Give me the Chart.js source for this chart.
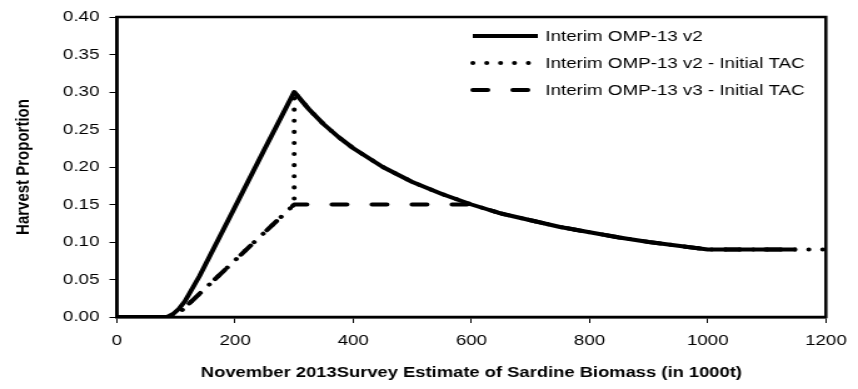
<!DOCTYPE html>
<html>
<head>
<meta charset="utf-8">
<script src="https://cdn.jsdelivr.net/npm/chart.js@4.4.1/dist/chart.umd.min.js"></script>
<style>
  html, body { margin: 0; padding: 0; background: #fff; overflow: hidden; }
  #wrap { width: 686px; height: 389px; transform: scaleX(1.25073); transform-origin: 0 0; }
</style>
</head>
<body>
<div id="wrap"><canvas id="c"></canvas></div>
<script>
// ---- data (biomass in 1000t, harvest proportion) ----
const seriesNames = ["Interim OMP-13 v2", "Interim OMP-13 v2 - Initial TAC", "Interim OMP-13 v3 - Initial TAC"];

const v2Biomass = [0, 85, 95, 105, 115, 140, 200, 250, 300, 325, 350, 375, 400, 450, 500, 550, 600, 650, 700, 750, 800, 850, 900, 950, 1000, 1050, 1100, 1150];
const v2Harvest = [0, 0, 0.004, 0.011, 0.021, 0.055, 0.147, 0.224, 0.300, 0.277, 0.257, 0.240, 0.225, 0.200, 0.180, 0.164, 0.150, 0.138, 0.129, 0.120, 0.113, 0.106, 0.100, 0.095, 0.090, 0.090, 0.090, 0.090];

const v2InitBiomass = [0, 98, 300, 300, 325, 350, 375, 400, 450, 500, 550, 600, 650, 700, 750, 800, 850, 900, 950, 1000, 1100, 1200];
const v2InitHarvest = [0, 0, 0.150, 0.300, 0.277, 0.257, 0.240, 0.225, 0.200, 0.180, 0.164, 0.150, 0.138, 0.129, 0.120, 0.113, 0.106, 0.100, 0.095, 0.090, 0.090, 0.090];

const v3InitBiomass = [0, 98, 300, 600, 650, 700, 750, 800, 850, 900, 950, 1000, 1100, 1150];
const v3InitHarvest = [0, 0, 0.150, 0.150, 0.138, 0.129, 0.120, 0.113, 0.106, 0.100, 0.095, 0.090, 0.090, 0.090];

const xTicks = [0, 200, 400, 600, 800, 1000, 1200];
const yTicks = [0.00, 0.05, 0.10, 0.15, 0.20, 0.25, 0.30, 0.35, 0.40];

const toPts = (xs, ys) => xs.map((x, i) => ({ x: x, y: ys[i] }));

const FONT = "'Liberation Sans', Arial, sans-serif";

const boxPlugin = {
  id: 'plotBox',
  beforeDatasetsDraw(chart) {
    const { ctx, chartArea: a } = chart;
    ctx.save();
    ctx.strokeStyle = '#000';
    ctx.lineWidth = 2.5;
    ctx.strokeRect(a.left, a.top, a.right - a.left, a.bottom - a.top);
    ctx.restore();
  }
};

const legendPlugin = {
  id: 'insideLegend',
  afterDraw(chart) {
    const { ctx } = chart;
    const rows = [36, 63, 90];
    const x1 = 378, x2 = 430, tx = 436;
    ctx.save();
    chart.data.datasets.forEach((ds, i) => {
      const y = rows[i];
      ctx.beginPath();
      ctx.strokeStyle = ds.borderColor;
      ctx.lineWidth = ds.borderWidth;
      ctx.lineCap = ds.borderCapStyle || 'butt';
      ctx.setLineDash(ds.borderDash || []);
      ctx.moveTo(x1, y);
      ctx.lineTo(x2, y);
      ctx.stroke();
      ctx.setLineDash([]);
      ctx.fillStyle = '#000';
      ctx.font = '15px ' + FONT;
      ctx.textAlign = 'left';
      ctx.textBaseline = 'middle';
      ctx.fillText(ds.label, tx, y + 1);
    });
    ctx.restore();
  }
};

new Chart(document.getElementById('c'), {
  type: 'scatter',
  data: {
    datasets: [
      {
        label: seriesNames[0],
        data: toPts(v2Biomass, v2Harvest),
        showLine: true, borderColor: '#000', borderWidth: 4,
        borderCapStyle: 'butt', borderJoinStyle: 'round',
        pointRadius: 0, tension: 0
      },
      {
        label: seriesNames[1],
        data: toPts(v2InitBiomass, v2InitHarvest),
        showLine: true, borderColor: '#000', borderWidth: 4,
        borderDash: [0.1, 11], borderCapStyle: 'round', borderJoinStyle: 'round',
        pointRadius: 0, tension: 0
      },
      {
        label: seriesNames[2],
        data: toPts(v3InitBiomass, v3InitHarvest),
        showLine: true, borderColor: '#000', borderWidth: 4,
        borderDash: [12, 20], borderCapStyle: 'round', borderJoinStyle: 'round',
        pointRadius: 0, tension: 0
      }
    ]
  },
  options: {
    responsive: true,
    maintainAspectRatio: false,
    animation: false,
    events: [],
    layout: { padding: { left: 0, right: 19.2, top: 15, bottom: 0 } },
    plugins: { legend: { display: false }, tooltip: { enabled: false } },
    scales: {
      x: {
        type: 'linear', min: 0, max: 1200,
        afterBuildTicks(scale) { scale.ticks = xTicks.map(v => ({ value: v })); },
        afterFit(scale) { scale.height = 72; },
        grid: { display: true, drawOnChartArea: false, drawTicks: true, tickLength: 6, color: '#000', lineWidth: 1 },
        border: { display: true, color: '#000', width: 2.5 },
        ticks: { color: '#000', font: { family: FONT, size: 15 }, padding: 9, maxRotation: 0, callback: v => String(v) },
        title: { display: true, text: 'November 2013Survey Estimate of Sardine Biomass (in 1000t)', color: '#000',
                 font: { family: FONT, size: 14.7, weight: 'bold' }, padding: { top: 0, bottom: 7 } }
      },
      y: {
        type: 'linear', min: 0, max: 0.40,
        afterBuildTicks(scale) { scale.ticks = yTicks.map(v => ({ value: v })); },
        afterFit(scale) { scale.width = 93.5; },
        grid: { display: true, drawOnChartArea: false, drawTicks: true, tickLength: 6, color: '#000', lineWidth: 1 },
        border: { display: true, color: '#000', width: 2.5 },
        ticks: { color: '#000', font: { family: FONT, size: 15 }, padding: 8, callback: v => Number(v).toFixed(2) },
        title: { display: true, text: 'Harvest Proportion', color: '#000',
                 font: { family: FONT, size: 15, weight: 'bold' }, padding: { top: 9.4, bottom: 0 } }
      }
    }
  },
  plugins: [boxPlugin, legendPlugin]
});
</script>
</body>
</html>
